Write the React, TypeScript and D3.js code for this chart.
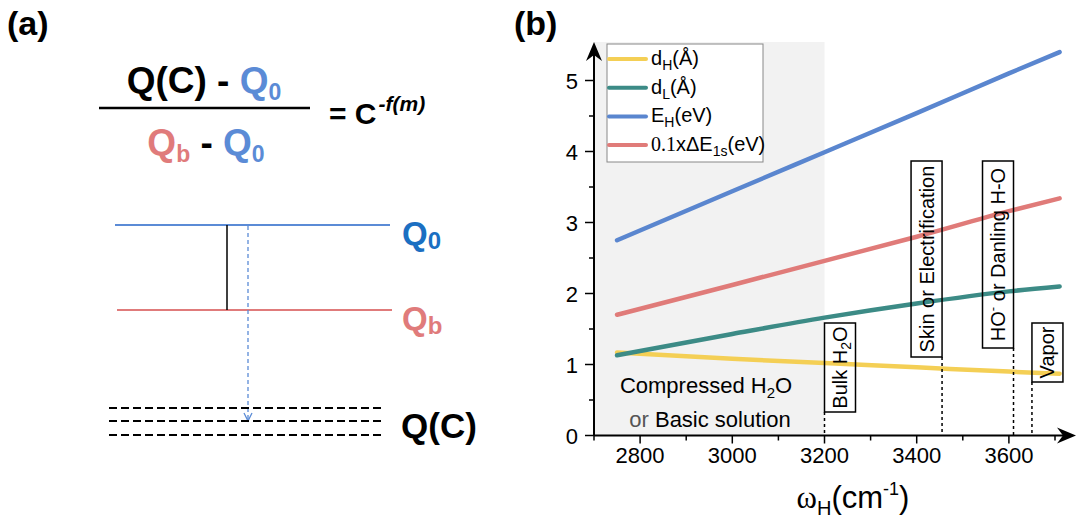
import React from 'react';
import * as d3 from 'd3';

// wavenumber samples (cm-1) shared by the four curves
const omega = [2750, 3000, 3200, 3400, 3600, 3710];
const dH = [1.17, 1.08, 1.02, 0.96, 0.9, 0.87];
const dL = [1.13, 1.43, 1.66, 1.86, 2.03, 2.1];
const EH = [2.75, 3.44, 3.99, 4.54, 5.1, 5.4];
const dE1s = [1.7, 2.12, 2.46, 2.8, 3.16, 3.34];

const xMajorTicks = [2800, 3000, 3200, 3400, 3600];
const xMinorTicks = [2700, 2900, 3100, 3300, 3500, 3700];
const yMajorTicks = [0, 1, 2, 3, 4, 5];
const yMinorTicks = [0.5, 1.5, 2.5, 3.5, 4.5];

// annotated regions: which edge of the box the dashed drop line sits on
const markers = [
  { key: 'bulk', omega: 3200, edge: 'left' },
  { key: 'skin', omega: 3455, edge: 'right' },
  { key: 'ho', omega: 3610, edge: 'right' },
  { key: 'vapor', omega: 3650, edge: 'left' },
];

const COLORS = {
  dH: '#f4cf55',
  dL: '#3c8b86',
  EH: '#5a86cf',
  dE: '#e07b79',
  q0: '#5b8bd6',
  q0Label: '#1b6fc2',
  qb: '#e07b7b',
};

const SANS = '"Liberation Sans", Arial, sans-serif';
const SERIF = '"Liberation Serif", "Times New Roman", serif';

const series = [
  { key: 'dH', values: dH, color: COLORS.dH },
  { key: 'dL', values: dL, color: COLORS.dL },
  { key: 'EH', values: EH, color: COLORS.EH },
  { key: 'dE', values: dE1s, color: COLORS.dE },
];

function PanelA() {
  return (
    <g fontFamily={SANS}>
      <text x={7} y={35} fontSize={34} fontWeight={700}>(a)</text>

      {/* formula */}
      <text x={204} y={93} fontSize={37} fontWeight={700} textAnchor="middle">
        Q(C) - <tspan fill={COLORS.q0}>Q</tspan>
        <tspan fill={COLORS.q0} fontSize={23} dy={7}>0</tspan>
      </text>
      <line x1={99} x2={310} y1={108} y2={108} stroke="#000" strokeWidth={2.5} />
      <text x={206} y={155} fontSize={37} fontWeight={700} textAnchor="middle">
        <tspan fill={COLORS.qb}>Q</tspan>
        <tspan fill={COLORS.qb} fontSize={23} dy={7}>b</tspan>
        <tspan dy={-7}> - </tspan>
        <tspan fill={COLORS.q0}>Q</tspan>
        <tspan fill={COLORS.q0} fontSize={23} dy={7}>0</tspan>
      </text>
      <text x={329} y={124} fontSize={30} fontWeight={700}>
        = C
        <tspan fontSize={21} fontStyle="italic" dy={-13} dx={2}>-f(m)</tspan>
      </text>

      {/* level diagram */}
      <line x1={115} x2={390} y1={225} y2={225} stroke={COLORS.q0} strokeWidth={2} />
      <line x1={117} x2={392} y1={310} y2={310} stroke={COLORS.qb} strokeWidth={2} />
      <line x1={227} x2={227} y1={225} y2={310} stroke="#000" strokeWidth={1.5} />
      <line x1={248} x2={248} y1={226} y2={419} stroke={COLORS.q0} strokeWidth={1.3} strokeDasharray="4,3" />
      <path d="M244,413 L248,421 L252,413" fill="none" stroke={COLORS.q0} strokeWidth={1.3} />
      {[408, 421, 435].map((y) => (
        <line key={y} x1={109} x2={384} y1={y} y2={y} stroke="#000" strokeWidth={2} strokeDasharray="8,4" />
      ))}
      <text x={402} y={245} fontSize={33} fontWeight={700} fill={COLORS.q0Label}>
        Q<tspan fontSize={24} dy={4}>0</tspan>
      </text>
      <text x={402} y={330} fontSize={33} fontWeight={700} fill={COLORS.qb}>
        Q<tspan fontSize={24} dy={4}>b</tspan>
      </text>
      <text x={401} y={438} fontSize={35} fontWeight={700} fill="#000">Q(C)</text>
    </g>
  );
}

function PanelB() {
  const x = d3.scaleLinear().domain([2700, 3700]).range([594, 1055]);
  const y = d3.scaleLinear().domain([0, 5]).range([435.5, 80.5]);
  const x0 = x(2700);
  const y0 = y(0);
  const axisEnd = 1076;
  const axisTop = 42;

  const line = d3
    .line<number>()
    .x((_, i) => x(omega[i]))
    .y((d) => y(d))
    .curve(d3.curveMonotoneX);

  const boxW = 31;
  const boxes: Record<string, { top: number; bottom: number }> = {
    bulk: { top: 323, bottom: 412 },
    skin: { top: 161, bottom: 357 },
    ho: { top: 161, bottom: 348 },
    vapor: { top: 323, bottom: 382 },
  };

  const labelFor = (key: string) => {
    if (key === 'bulk')
      return (
        <>
          Bulk H<tspan fontSize={14} dy={4}>2</tspan>
          <tspan dy={-4}>O</tspan>
        </>
      );
    if (key === 'skin') return <>Skin or Electrification</>;
    if (key === 'ho')
      return (
        <>
          HO<tspan fontSize={13} dy={-8}>-</tspan>
          <tspan dy={8}> or Danling H-O</tspan>
        </>
      );
    return <>Vapor</>;
  };

  const legendItems = [
    { color: COLORS.dH, label: (<>d<tspan fontSize={14} dy={5}>H</tspan><tspan dy={-5}>(Å)</tspan></>) },
    { color: COLORS.dL, label: (<>d<tspan fontSize={14} dy={5}>L</tspan><tspan dy={-5}>(Å)</tspan></>) },
    { color: COLORS.EH, label: (<>E<tspan fontSize={14} dy={5}>H</tspan><tspan dy={-5}>(eV)</tspan></>) },
    {
      color: COLORS.dE,
      label: (
        <>
          <tspan fontFamily={SERIF}>0.1</tspan>xΔE<tspan fontSize={14} dy={5}>1s</tspan>
          <tspan dy={-5}>(eV)</tspan>
        </>
      ),
    },
  ];

  return (
    <g fontFamily={SANS}>
      <text x={514} y={35} fontSize={34} fontWeight={700}>(b)</text>

      {/* shaded compressed region */}
      <rect x={x0} y={axisTop} width={x(3200) - x0} height={y0 - axisTop} fill="#f2f2f2" />

      {/* curves */}
      {series.map((s) => (
        <path key={s.key} d={line(s.values) || ''} fill="none" stroke={s.color} strokeWidth={4.5} strokeLinecap="round" />
      ))}

      {/* marker boxes */}
      {markers.map((m) => {
        const b = boxes[m.key];
        const edgeX = x(m.omega);
        const left = m.edge === 'left' ? edgeX : edgeX - boxW;
        const cx = left + boxW / 2;
        const cy = (b.top + b.bottom) / 2;
        return (
          <g key={m.key}>
            <line x1={edgeX} x2={edgeX} y1={b.bottom} y2={y0} stroke="#000" strokeWidth={1.5} strokeDasharray="3,3" />
            <rect x={left} y={b.top} width={boxW} height={b.bottom - b.top} fill="none" stroke="#000" strokeWidth={1.5} />
            <text transform={`translate(${cx + 7},${cy}) rotate(-90)`} fontSize={20} textAnchor="middle">
              {labelFor(m.key)}
            </text>
          </g>
        );
      })}

      {/* region text */}
      <text x={706} y={393} fontSize={22} textAnchor="middle">
        Compressed H<tspan fontSize={15} dy={5}>2</tspan>
        <tspan dy={-5}>O</tspan>
      </text>
      <text x={710} y={427} fontSize={22} textAnchor="middle">
        <tspan fill="#555">or</tspan> Basic solution
      </text>

      {/* legend */}
      <rect x={607} y={44} width={156} height={118} fill="#fff" stroke="#888" strokeWidth={1} />
      {legendItems.map((item, i) => {
        const ly = 59 + i * 28.7;
        return (
          <g key={i}>
            <line x1={609} x2={646} y1={ly} y2={ly} stroke={item.color} strokeWidth={4} strokeLinecap="round" />
            <text x={651} y={ly + 6} fontSize={20}>{item.label}</text>
          </g>
        );
      })}

      {/* axes */}
      <line x1={x0} x2={axisEnd - 4} y1={y0} y2={y0} stroke="#000" strokeWidth={2} />
      <line x1={x0} x2={x0} y1={y0} y2={axisTop + 4} stroke="#000" strokeWidth={2} />
      <path d={`M${x0},${axisTop} L${x0 - 8},${axisTop + 19} L${x0},${axisTop + 13} L${x0 + 8},${axisTop + 19} Z`} fill="#000" />
      <path d={`M${axisEnd},${y0} L${axisEnd - 19},${y0 - 8} L${axisEnd - 13},${y0} L${axisEnd - 19},${y0 + 8} Z`} fill="#000" />

      {xMajorTicks.map((t) => (
        <g key={t}>
          <line x1={x(t)} x2={x(t)} y1={y0} y2={y0 + 8} stroke="#000" strokeWidth={1.5} />
          <text x={x(t)} y={y0 + 27} fontSize={22} textAnchor="middle">{t}</text>
        </g>
      ))}
      {xMinorTicks.map((t) => (
        <line key={t} x1={x(t)} x2={x(t)} y1={y0} y2={y0 + 5} stroke="#000" strokeWidth={1.5} />
      ))}
      {yMajorTicks.map((t) => (
        <g key={t}>
          <line x1={x0 - 9} x2={x0} y1={y(t)} y2={y(t)} stroke="#000" strokeWidth={1.5} />
          <text x={578} y={y(t) + 8} fontSize={22} textAnchor="end">{t}</text>
        </g>
      ))}
      {yMinorTicks.map((t) => (
        <line key={t} x1={x0 - 5} x2={x0} y1={y(t)} y2={y(t)} stroke="#000" strokeWidth={1.5} />
      ))}

      {/* x axis title */}
      <text x={853} y={508} fontSize={31} textAnchor="middle">
        <tspan fontFamily={SERIF}>ω</tspan>
        <tspan fontSize={20} dy={7}>H</tspan>
        <tspan dy={-7}>(cm</tspan>
        <tspan fontSize={18} dy={-13}>-1</tspan>
        <tspan dy={13}>)</tspan>
      </text>
    </g>
  );
}

export default function App() {
  return (
    <svg width={1078} height={521} style={{ display: 'block', position: 'absolute', left: 0, top: 0, background: '#fff' }}>
      <rect width={1078} height={521} fill="#fff" />
      <PanelA />
      <PanelB />
    </svg>
  );
}
